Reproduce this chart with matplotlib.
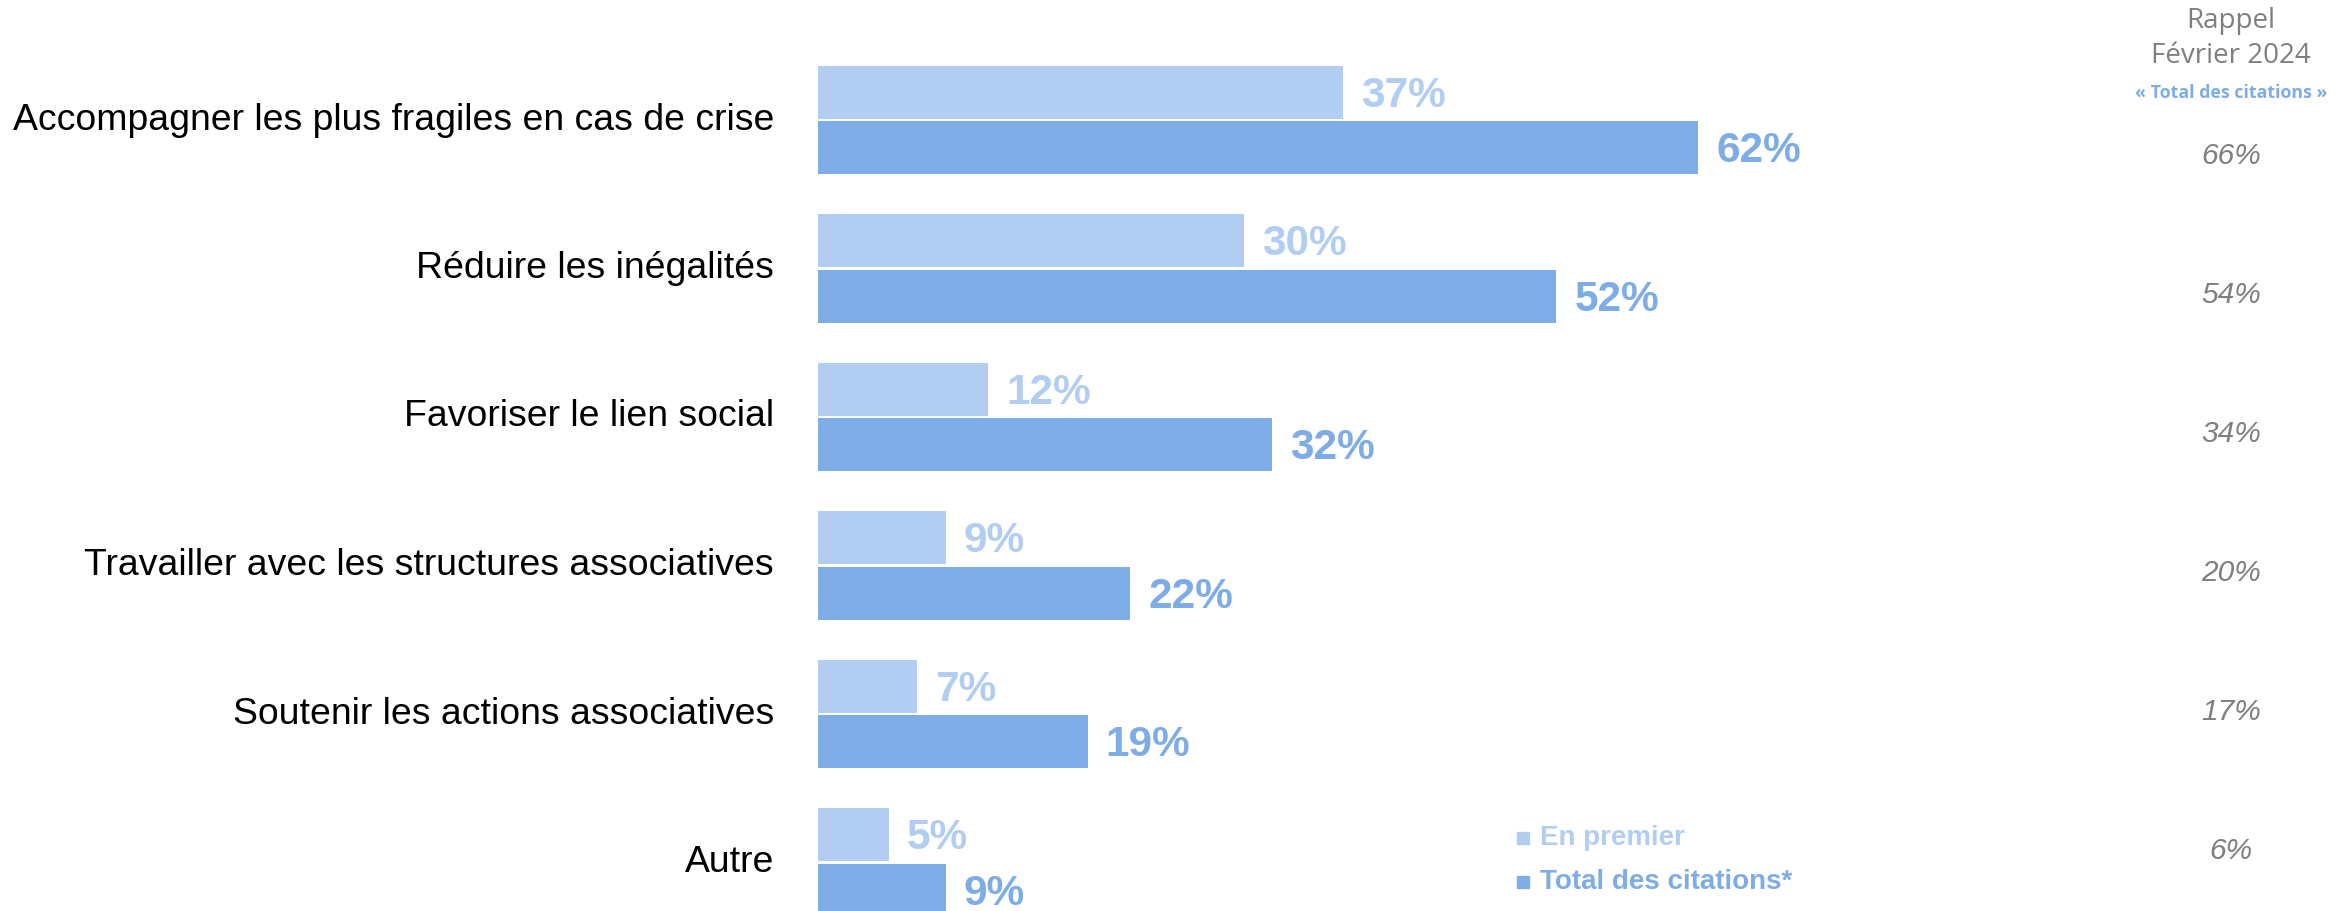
"""Priorités citées : barres horizontales groupées avec rappel février 2024."""

import matplotlib
matplotlib.use("Agg")
import matplotlib.pyplot as plt
from matplotlib.transforms import blended_transform_factory
import numpy as np

categories = [
    "Accompagner les plus fragiles en cas de crise",
    "Réduire les inégalités",
    "Favoriser le lien social",
    "Travailler avec les structures associatives",
    "Soutenir les actions associatives",
    "Autre",
]
en_premier = [37, 30, 12, 9, 7, 5]
total_citations = [62, 52, 32, 22, 19, 9]
rappel_fev_2024 = [66, 54, 34, 20, 17, 6]

LIGHT = "#B2CDF2"
DARK = "#7DACE6"
GREY = "#7F7F7F"

plt.rcParams["font.family"] = ["Liberation Sans", "DejaVu Sans"]

W, H = 2351, 911
fig = plt.figure(figsize=(W / 100, H / 100), dpi=100)

# Axes placed in pixels: bars start at x=818, 14.2 px per percent.
left_px, px_per_pct = 818, 14.2
ax = fig.add_axes([left_px / W, 0, 100 * px_per_pct / W, 1])
ax.set_xlim(0, 100)
# group spacing 148.5 px, first group centre 120 px from top
ax.set_ylim((H - 120) / 148.5, -120 / 148.5)
ax.axis("off")

y = np.arange(len(categories))
h = 0.354
off = 0.187
ax.barh(y - off, en_premier, height=h, color=LIGHT)
ax.barh(y + off, total_citations, height=h, color=DARK)

pad = 18 / px_per_pct
dy = 0.025  # labels sit a touch lower than the bar centre
for yi, v in zip(y, en_premier):
    ax.text(v + pad, yi - off + dy, f"{v}%", color=LIGHT, fontsize=30.5,
            fontweight="bold", va="center", ha="left")
for yi, v in zip(y, total_citations):
    ax.text(v + pad, yi + off + dy, f"{v}%", color=DARK, fontsize=30.5,
            fontweight="bold", va="center", ha="left")

# Category labels, right aligned before the bars
lab = blended_transform_factory(fig.transFigure, ax.transData)
for yi, c in zip(y, categories):
    t = fig.text(774 / W, 0, c, transform=lab, fontsize=26.9, ha="right",
                 va="center", color="black")
    t.set_y(yi)

# Rappel column (own spacing, not aligned with the bars)
rx = 2231 / W
for i, v in enumerate(rappel_fev_2024):
    fig.text(rx, 1 - (156 + 139 * i) / H, f"{v}%", fontsize=21.5,
             style="italic", ha="center", va="center", color=GREY)

fig.text(rx, 1 - 21 / H, "Rappel", fontsize=20, family="Open Sans",
         color=GREY, ha="center", va="center")
fig.text(rx, 1 - 56 / H, "Février 2024", fontsize=20, family="Open Sans",
         color=GREY, ha="center", va="center")
fig.text(rx, 1 - 93 / H, "« Total des citations »", fontsize=12.8,
         family="Open Sans", fontweight="bold", color=DARK,
         ha="center", va="center")

# Legend
for ypx, txt, col in [(838, "En premier", LIGHT),
                      (882, "Total des citations*", DARK)]:
    fig.add_artist(plt.Line2D([1523 / W], [1 - ypx / H], marker="s",
                              markersize=9, color=col, linestyle="none"))
    fig.text(1540 / W, 1 - ypx / H, txt, fontsize=20, fontweight="bold",
             color=col, ha="left", va="center")

fig.savefig("out.png", dpi=100, facecolor="white")
